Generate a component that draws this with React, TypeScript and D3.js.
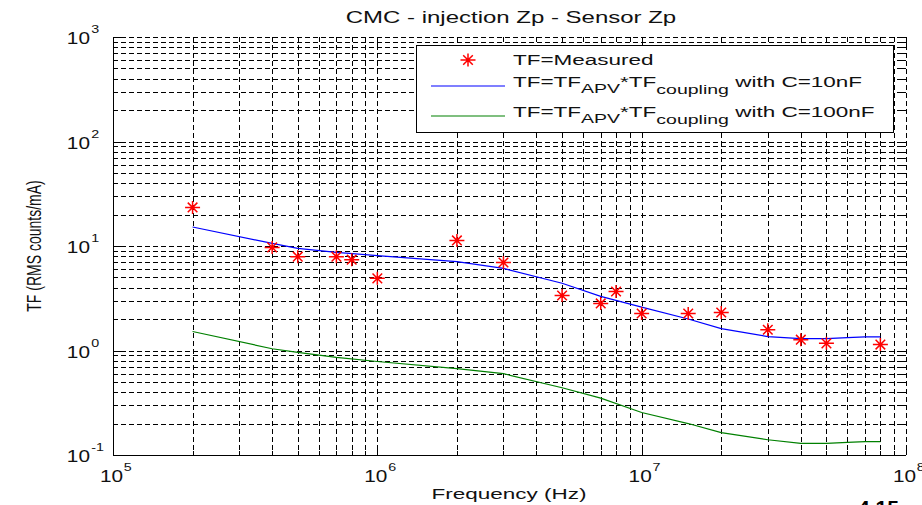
import React from 'react';
import * as d3 from 'd3';

// measured transfer function
const freqMeasured = [2e5, 4e5, 5e5, 7e5, 8e5, 1e6, 2e6, 3e6, 5e6, 7e6, 8e6, 1e7, 1.5e7, 2e7, 3e7, 4e7, 5e7, 8e7];
const tfMeasured = [23.4, 9.7, 7.9, 7.9, 7.4, 4.9, 11.3, 6.95, 3.36, 2.82, 3.67, 2.26, 2.26, 2.31, 1.58, 1.27, 1.17, 1.14];

// model curves
const freqModel = [2e5, 4e5, 5e5, 7e5, 1e6, 2e6, 3e6, 5e6, 7e6, 1e7, 1.5e7, 2e7, 3e7, 4e7, 5e7, 6e7, 7e7, 8e7];
const tf10nF = [15.2, 10.6, 9.5, 8.7, 8.1, 7.1, 6.1, 4.4, 3.3, 2.6, 2.0, 1.62, 1.36, 1.3, 1.3, 1.33, 1.35, 1.35];
const tf100nF = [1.52, 1.04, 0.96, 0.86, 0.785, 0.67, 0.6, 0.44, 0.35, 0.255, 0.2, 0.164, 0.14, 0.129, 0.129, 0.132, 0.134, 0.134];

// tick labels (powers of ten)
const xTickExps = [5, 6, 7, 8];
const yTickExps = [-1, 0, 1, 2, 3];

const FONT = 'Liberation Sans, Arial, sans-serif';
const SX = 1.5; // the picture is stretched horizontally

const margin = { top: 37, right: 16, bottom: 50, left: 113 };
const W = 922;
const H = 505;

const x = d3.scaleLog().domain([1e5, 1e8]).range([margin.left, W - margin.right]);
const y = d3.scaleLog().domain([0.1, 1000]).range([H - margin.bottom, margin.top]);

const minorVals = (lo: number, hi: number) => {
  const out: number[] = [];
  for (let e = lo; e < hi; e++) {
    for (let m = 1; m <= 9; m++) out.push(m * Math.pow(10, e));
  }
  out.push(Math.pow(10, hi));
  return out;
};

const Star = ({ cx, cy }: { cx: number; cy: number }) => {
  const a = 7.5, b = 6.5, d = 4.8;
  return (
    <path
      d={`M${cx - a},${cy}L${cx + a},${cy}M${cx},${cy - b}L${cx},${cy + b}M${cx - d},${cy - d}L${cx + d},${cy + d}M${cx - d},${cy + d}L${cx + d},${cy - d}`}
      stroke="#ff0000"
      strokeWidth={1.5}
      fill="none"
    />
  );
};

const Stretched = ({ tx, ty, sx = SX, anchor = 'start', size = 15, children }: any) => (
  <g transform={`translate(${tx},${ty}) scale(${sx},1)`}>
    <text x={0} y={0} textAnchor={anchor} fontFamily={FONT} fontSize={size} fill="#111">
      {children}
    </text>
  </g>
);

export default function App() {
  const x0 = x.range()[0], x1 = x.range()[1];
  const y0 = y.range()[0], y1 = y.range()[1];
  const xs = minorVals(5, 8);
  const ys = minorVals(-1, 3);
  const isMajor = (v: number) => Math.abs(Math.log10(v) - Math.round(Math.log10(v))) < 1e-9;

  const line = d3.line<number>()
    .x((_, i) => x(freqModel[i]))
    .y(d => y(d));

  return (
    <svg width={W} height={H} style={{ position: 'absolute', left: 0, top: 0, background: '#fff' }}>
      <rect width={W} height={H} fill="#fff" />

      {/* grid */}
      <g stroke="#000" strokeWidth={1} strokeDasharray="5,3" shapeRendering="crispEdges">
        {xs.map((v, i) => (
          <line key={'gx' + i} x1={Math.round(x(v)) + 0.5} x2={Math.round(x(v)) + 0.5} y1={y1} y2={y0} />
        ))}
        {ys.map((v, i) => (
          <line key={'gy' + i} x1={x0} x2={x1} y1={Math.round(y(v)) + 0.5} y2={Math.round(y(v)) + 0.5} />
        ))}
      </g>

      {/* tick marks */}
      <g stroke="#000" strokeWidth={1} shapeRendering="crispEdges">
        {xs.map((v, i) => {
          const len = isMajor(v) ? 8 : 4;
          const px = Math.round(x(v)) + 0.5;
          return (
            <g key={'tx' + i}>
              <line x1={px} x2={px} y1={y0} y2={y0 - len} />
              <line x1={px} x2={px} y1={y1} y2={y1 + len} />
            </g>
          );
        })}
        {ys.map((v, i) => {
          const len = isMajor(v) ? 8 : 4;
          const py = Math.round(y(v)) + 0.5;
          return (
            <g key={'ty' + i}>
              <line x1={x0} x2={x0 + len} y1={py} y2={py} />
              <line x1={x1} x2={x1 - len} y1={py} y2={py} />
            </g>
          );
        })}
        <line x1={x0 + 0.5} x2={x0 + 0.5} y1={y1} y2={y0} strokeWidth={1.5} />
        <line x1={x0} x2={x1} y1={y0 + 0.5} y2={y0 + 0.5} strokeWidth={1.5} />
      </g>

      {/* curves */}
      <path d={line(tf10nF) || ''} fill="none" stroke="#0000ff" strokeWidth={1.2} />
      <path d={line(tf100nF) || ''} fill="none" stroke="#008000" strokeWidth={1.2} />
      {freqMeasured.map((f, i) => (
        <Star key={'m' + i} cx={x(f)} cy={y(tfMeasured[i])} />
      ))}

      {/* tick labels */}
      {xTickExps.map(e => {
        const px = x(Math.pow(10, e));
        return (
          <g key={'xl' + e} transform={`translate(${px - 1.5},482) scale(1.3,1)`} fill="#111">
            <text textAnchor="middle" fontFamily={FONT} fontSize={16}>10</text>
            <text x={9.5} y={-11} fontFamily={FONT} fontSize={11}>{e}</text>
          </g>
        );
      })}
      {yTickExps.map(e => {
        const py = y(Math.pow(10, e));
        return (
          <g key={'yl' + e} transform={`translate(90,${py + 7}) scale(1.3,1)`} fill="#111">
            <text textAnchor="end" fontFamily={FONT} fontSize={16}>10</text>
            <text x={1} y={-11} fontFamily={FONT} fontSize={11}>{e < 0 ? '-' + -e : e}</text>
          </g>
        );
      })}

      {/* title and axis labels */}
      <Stretched tx={511} ty={23} anchor="middle" size={16}>CMC - injection Zp - Sensor Zp</Stretched>
      <Stretched tx={509} ty={499} anchor="middle" size={15}>Frequency (Hz)</Stretched>
      <text
        transform={`translate(41,246) scale(1.45,1) rotate(-90)`}
        textAnchor="middle"
        fontFamily={FONT}
        fontSize={14}
        fill="#111"
      >
        TF (RMS counts/mA)
      </text>

      {/* legend */}
      <rect x={416.5} y={45.5} width={477} height={87} fill="#fff" stroke="#000" strokeWidth={1} />
      <Star cx={468} cy={60} />
      <Stretched tx={513} ty={65}>TF=Measured</Stretched>
      <line x1={431} x2={505} y1={86} y2={86} stroke="#0000ff" strokeWidth={1.2} />
      <Stretched tx={513} ty={87}>
        TF=TF<tspan fontSize={13} dy={6}>APV</tspan>
        <tspan dy={-6}>*TF</tspan>
        <tspan fontSize={13} dy={7}>coupling</tspan>
        <tspan dy={-7}> with C=10nF</tspan>
      </Stretched>
      <line x1={431} x2={505} y1={116} y2={116} stroke="#008000" strokeWidth={1.2} />
      <Stretched tx={513} ty={117}>
        TF=TF<tspan fontSize={13} dy={6}>APV</tspan>
        <tspan dy={-6}>*TF</tspan>
        <tspan fontSize={13} dy={7}>coupling</tspan>
        <tspan dy={-7}> with C=100nF</tspan>
      </Stretched>

      {/* page number peeking in at the bottom */}
      <text x={858} y={515} fontFamily={FONT} fontSize={21} fontWeight="bold" fill="#000">4.15</text>
    </svg>
  );
}
